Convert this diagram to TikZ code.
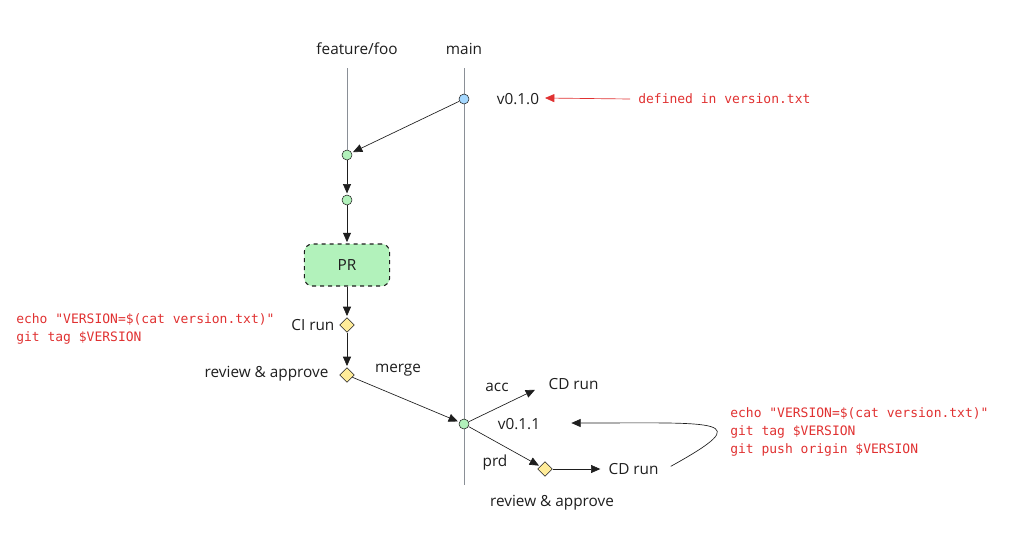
\documentclass[tikz,border=0pt]{standalone}
\usepackage{fontspec}
\setmainfont{Open Sans}
\newfontfamily\codefont{DejaVu Sans Mono}
\usetikzlibrary{arrows.meta,shapes.geometric}
\definecolor{ink}{HTML}{1E1E1E}
\definecolor{branchgray}{HTML}{8A8F96}
\definecolor{codered}{HTML}{E03131}
\definecolor{commitgreen}{HTML}{B2F2BB}
\definecolor{commitblue}{HTML}{A5D8FF}
\definecolor{gateyellow}{HTML}{FFEC99}
\tikzset{
    lbl/.style={font=\fontsize{11.5}{13}\selectfont, text=ink, inner sep=1pt},
    code/.style={font=\codefont\fontsize{9.75}{13.5}\selectfont, text=codered, align=left, inner sep=0pt},
    commit/.style={circle, draw=ink, line width=0.4pt, minimum size=7.5pt, inner sep=0pt},
    gate/.style={diamond, draw=ink, fill=gateyellow, line width=0.4pt, minimum width=11pt, minimum height=11pt, inner sep=0pt},
    branch/.style={draw=branchgray, line width=0.6pt},
    arr/.style={draw=ink, line width=0.5pt, -{Triangle[length=7pt,width=6pt]}, shorten >=1pt}
}
\begin{document}
\begin{tikzpicture}[x=0.75pt, y=-0.75pt]
    \useasboundingbox (0,0) rectangle (1024,533);
    \node [lbl] (featlbl) at (357,49) {feature/foo};
    \node [lbl] (mainlbl) at (464,49) {main};
    \coordinate (ftop) at (347,68);
    \coordinate (mtop) at (464,68);
    \coordinate (mbot) at (464,485);
    \draw [branch] (mtop) -- (mbot);
    \node [commit, fill=commitblue] (v010) at (464,99) {};
    \node [commit, fill=commitgreen] (c1) at (347,155) {};
    \node [commit, fill=commitgreen] (c2) at (347,200) {};
    \draw [branch] (ftop) -- (c1);
    \node [rectangle, rounded corners=6pt, draw=ink, dashed, line width=0.8pt, fill=commitgreen,
           minimum width=64pt, minimum height=31.5pt, lbl] (pr) at (347,265) {PR};
    \node [gate] (ci) at (347,325) {};
    \node [gate] (review) at (347,375) {};
    \node [commit, fill=commitgreen] (merge) at (464,424) {};
    \node [gate] (prdgate) at (545,469) {};
    \node [lbl] (v010lbl) at (518,99) {v0.1.0};
    \node [code, anchor=west] (defined) at (638,99) {defined in version.txt};
    \node [lbl, anchor=east] (cilbl) at (336,325) {CI run};
    \node [lbl, anchor=east] (reviewlbl) at (330,374) {review \& approve};
    \node [lbl] (mergelbl) at (398,370) {merge};
    \node [lbl] (acclbl) at (497,387) {acc};
    \node [lbl, anchor=west] (cd1) at (547,384) {CD run};
    \node [lbl] (v011lbl) at (519,424) {v0.1.1};
    \node [lbl] (prdlbl) at (495,463) {prd};
    \node [lbl, anchor=west] (cd2) at (607,469) {CD run};
    \node [lbl] (review2lbl) at (552,503) {review \& approve};
    \node [code, anchor=west] (cilines) at (16,329) {echo "VERSION=\$(cat version.txt)"\\git tag \$VERSION};
    \node [code, anchor=west] (cdlines) at (730,432) {echo "VERSION=\$(cat version.txt)"\\git tag \$VERSION\\git push origin \$VERSION};
    \coordinate (redtip) at (545,98);
    \coordinate (tagend) at (570,423);
    \draw [arr, draw=codered, shorten >=0pt] ([xshift=-6pt]defined.west) -- (redtip);
    \draw [arr] (v010) -- (c1);
    \draw [arr] (c1) -- (c2);
    \draw [arr] (c2) -- (pr);
    \draw [arr] (pr) -- (ci);
    \draw [arr] (ci) -- (review);
    \draw [arr] (review) -- (merge);
    \draw [arr, shorten >=10pt] (merge) -- (cd1.west);
    \draw [arr] (merge) -- (prdgate);
    \draw [arr, shorten >=5pt] (prdgate) -- (cd2.west);
    \draw [arr] ([xshift=8pt,yshift=2pt]cd2.east) .. controls (758,418) and (720,423) .. (tagend);
\end{tikzpicture}
\end{document}
